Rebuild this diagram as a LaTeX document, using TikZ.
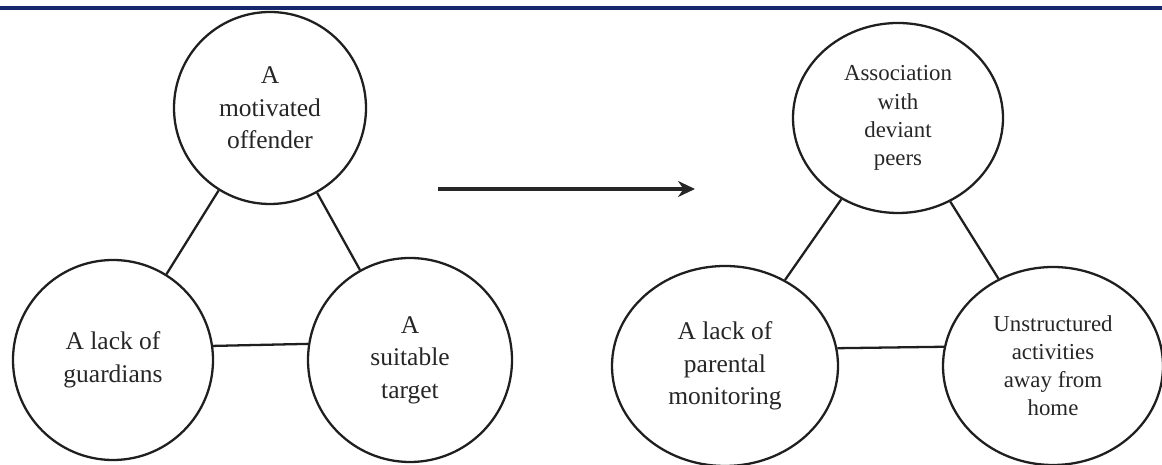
\documentclass[tikz,border=0pt]{standalone}
\usepackage{fontspec}
\setmainfont{Liberation Serif}
\usetikzlibrary{shapes.geometric,arrows.meta}
\definecolor{rulenavy}{RGB}{22,40,108}
\begin{document}
\begin{tikzpicture}[
      blob/.style={draw=black!88, line width=1.3pt, inner sep=0pt,
                   align=center, text=black!85},
      circ/.style={blob, circle, font=\fontsize{14.5}{18.5}\selectfont},
      oval/.style={blob, ellipse, font=\fontsize{14.5}{18.5}\selectfont},
      small/.style={font=\fontsize{13}{16}\selectfont},
      link/.style={draw=black!88, line width=1.3pt},
      arr/.style={-{Stealth[length=0.34cm, width=0.32cm]}, line width=2.4pt, draw=black!85},
    ]
    \useasboundingbox (0,0) rectangle (23.24,9.30);

    % Top rule
    \draw[rulenavy, line width=1.8pt] (0,9.14) -- (23.24,9.14);

    % Left triangle: routine activity theory
    \node[circ, minimum size=3.84cm] (off)    at (5.40, 7.14) {A\\motivated\\offender};
    \node[circ, minimum size=4.00cm] (guard)  at (2.26, 2.10) {A lack of\\guardians};
    \node[circ, minimum size=4.08cm] (target) at (8.20, 2.10) {A\\suitable\\target};

    \draw[link] (off) -- (guard);
    \draw[link] (off) -- (target);
    \draw[link] (guard.8.6) -- (target.171.4);

    % Arrow between the two triangles
    \coordinate (from) at (8.76, 5.52);
    \coordinate (to)   at (13.90, 5.52);
    \draw[arr] (from) -- (to);

    % Right triangle: adolescent version
    \node[oval, small, minimum width=4.2cm, minimum height=3.8cm] (peers) at (17.96, 6.94)
      {Association\\with\\deviant\\peers};
    \node[oval, minimum width=4.52cm, minimum height=4.0cm] (monitor) at (14.50, 1.98)
      {A lack of\\parental\\monitoring};
    \node[oval, small, minimum width=4.4cm, minimum height=3.96cm] (unstr) at (21.06, 1.98)
      {Unstructured\\activities\\away from\\home};

    \draw[link] (peers) -- (monitor);
    \draw[link] (peers) -- (unstr);
    \draw[link] (monitor.9.2) -- (unstr.170.6);

    \end{tikzpicture}
\end{document}
